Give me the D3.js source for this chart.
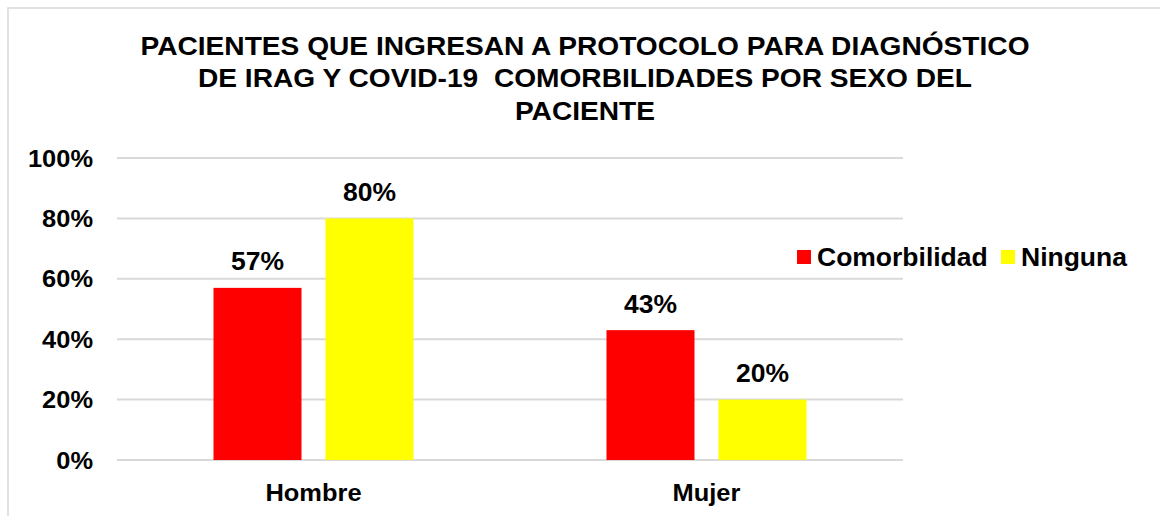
<!DOCTYPE html>
<html>
<head>
<meta charset="utf-8">
<script src="https://cdn.jsdelivr.net/npm/d3@7"></script>
<style>
  body { margin: 0; background: #fff; }
  svg { font-family: "Liberation Sans", Arial, sans-serif; font-weight: bold; }
  .grid line { stroke: #d9d9d9; stroke-width: 2; }
  text { fill: #000; }
</style>
</head>
<body>
<svg width="1160" height="516"></svg>
<script>
// chart data
let categories = ["Hombre", "Mujer"];
let series = ["Comorbilidad", "Ninguna"];
let comorbilidad = [0.57, 0.43];
let ninguna = [0.8, 0.2];
let yTicks = [0, 0.2, 0.4, 0.6, 0.8, 1];
let titleLines = [
  "PACIENTES QUE INGRESAN A PROTOCOLO PARA DIAGNÓSTICO",
  "DE IRAG Y COVID-19  COMORBILIDADES POR SEXO DEL",
  "PACIENTE",
];
let colors = { Comorbilidad: "#ff0000", Ninguna: "#ffff00" };

let values = { Comorbilidad: comorbilidad, Ninguna: ninguna };

// text in the original is a bit wider than Liberation Sans
const stretch = 1.06;
const place = (x, y, sx = stretch) => `translate(${x},${y}) scale(${sx},1)`;

let svg = d3.select("svg");

// outer frame
svg
  .append("rect")
  .attr("x", 8)
  .attr("y", 8)
  .attr("width", 1200)
  .attr("height", 600)
  .attr("fill", "none")
  .attr("stroke", "#d9d9d9")
  .attr("stroke-width", 1.5);

let plot = { left: 117, right: 903, top: 158, bottom: 460 };

let xScale = d3
  .scaleBand()
  .domain(categories)
  .range([plot.left, plot.right]);

let yScale = d3
  .scaleLinear()
  .domain([0, 1])
  .range([plot.bottom, plot.top]);

let barW = 88,
  barGap = 24;

// gridlines
svg
  .append("g")
  .attr("class", "grid")
  .selectAll("line")
  .data(yTicks)
  .enter()
  .append("line")
  .attr("x1", plot.left)
  .attr("x2", plot.right)
  .attr("y1", (d) => yScale(d))
  .attr("y2", (d) => yScale(d));

// y tick labels
svg
  .append("g")
  .selectAll("text")
  .data(yTicks)
  .enter()
  .append("text")
  .attr("transform", (d) => place(93, yScale(d) + 8.6))
  .attr("text-anchor", "end")
  .attr("font-size", "24px")
  .text((d) => d3.format(".0%")(d));

// category labels
svg
  .append("g")
  .selectAll("text")
  .data(categories)
  .enter()
  .append("text")
  .attr("transform", (d) => place(xScale(d) + xScale.bandwidth() / 2, 500.5))
  .attr("text-anchor", "middle")
  .attr("font-size", "24px")
  .text((d) => d);

// bars
let barX = (cat, i) =>
  xScale(cat) + xScale.bandwidth() / 2 - barW - barGap / 2 + i * (barW + barGap);

series.forEach((s, i) => {
  let g = svg.append("g");
  g.selectAll("rect")
    .data(categories)
    .enter()
    .append("rect")
    .attr("x", (c) => barX(c, i))
    .attr("y", (c, j) => yScale(values[s][j]))
    .attr("width", barW)
    .attr("height", (c, j) => plot.bottom - yScale(values[s][j]))
    .attr("fill", colors[s]);

  g.selectAll("text")
    .data(categories)
    .enter()
    .append("text")
    .attr("transform", (c, j) =>
      place(barX(c, i) + barW / 2, yScale(values[s][j]) - 17.5)
    )
    .attr("text-anchor", "middle")
    .attr("font-size", "25px")
    .text((c, j) => d3.format(".0%")(values[s][j]));
});

// title
svg
  .append("g")
  .selectAll("text")
  .data(titleLines)
  .enter()
  .append("text")
  .attr("transform", (d, i) => place(585, 54.5 + i * 32.5, 1.082))
  .attr("text-anchor", "middle")
  .attr("font-size", "26px")
  .attr("xml:space", "preserve")
  .style("white-space", "pre")
  .text((d) => d);

// legend
let legend = svg
  .append("g")
  .selectAll("g")
  .data(series)
  .enter()
  .append("g")
  .attr("transform", (d, i) => `translate(${[797, 1001][i]},250)`);

legend
  .append("rect")
  .attr("width", 14)
  .attr("height", 14)
  .attr("fill", (d) => colors[d]);
legend
  .append("text")
  .attr("transform", place(20, 15.5))
  .attr("font-size", "25px")
  .text((d) => d);
</script>
</body>
</html>
